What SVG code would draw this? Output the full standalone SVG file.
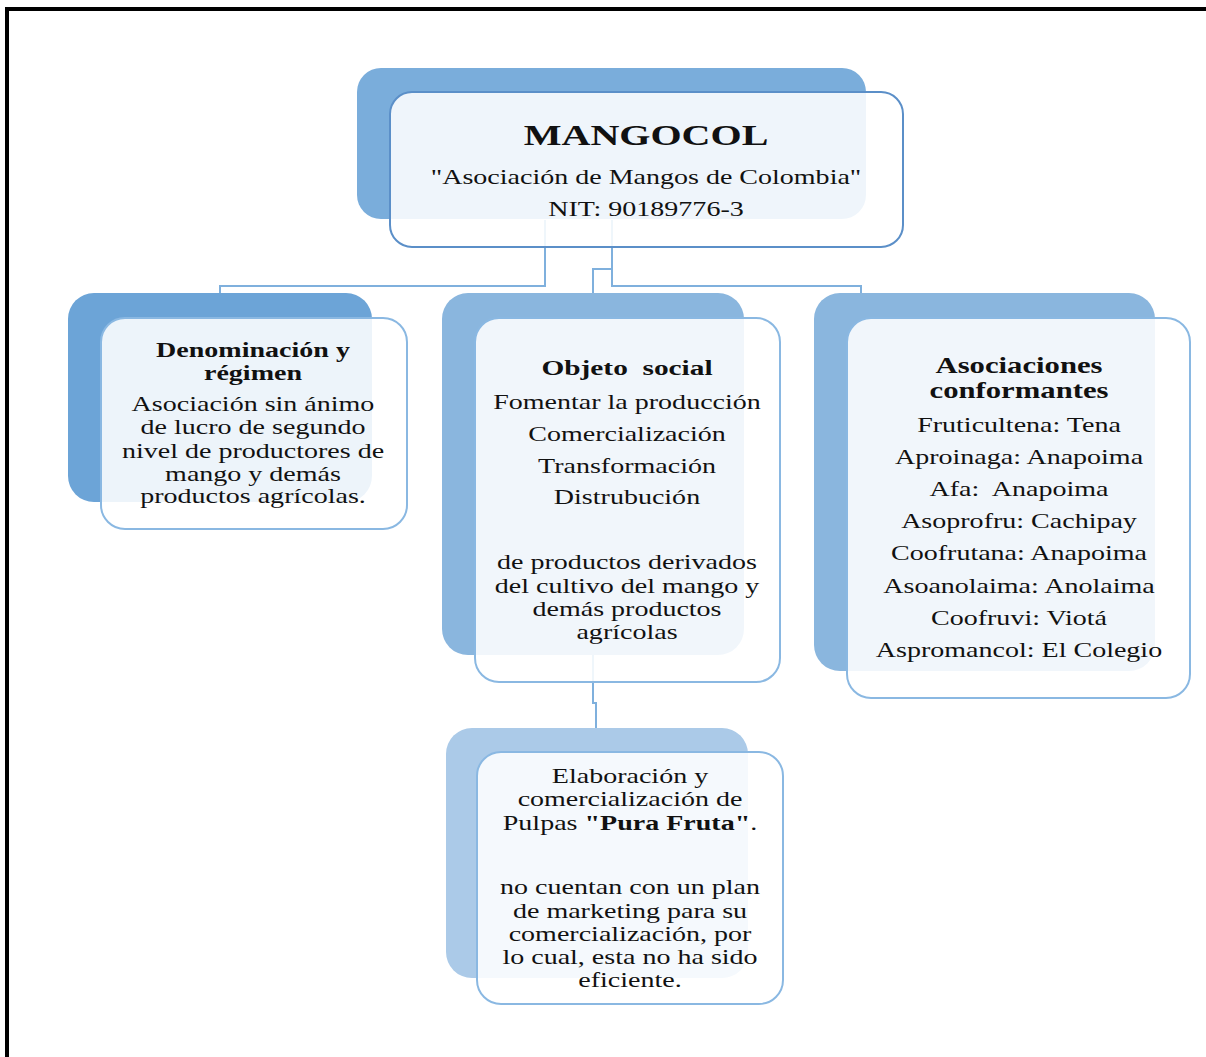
<svg xmlns="http://www.w3.org/2000/svg" width="1206" height="1057" viewBox="0 0 1206 1057">
<style>
  .front { fill: #ffffff; fill-opacity: 0.88; stroke: #8ab8e2; stroke-width: 2; }
  .t { font-family: "Liberation Serif", "Times New Roman", serif; font-size: 21px; fill: #111111; text-anchor: middle; }
  .b { font-weight: bold; }
  .conn { fill: none; stroke: #7fb0dd; stroke-width: 2; }
</style>
<rect x="0" y="0" width="1206" height="1057" fill="#ffffff"/>
<rect x="7" y="9" width="1220" height="1070" fill="none" stroke="#000000" stroke-width="4"/>

<g id="connectors">
  <path class="conn" d="M545,220 V286 H220 V315"/>
  <path class="conn" d="M612,220 V286 H861 V315"/>
  <path class="conn" d="M612,269 H593 V293"/>
  <path class="conn" d="M593,655 V703 H596 V728"/>
</g>

<g id="node-mangocol">
  <rect x="357" y="68" width="509" height="151" rx="24" fill="#7aaddb"/>
  <rect class="front" x="390" y="92" width="513" height="155" rx="22" style="stroke:#5b8fc8"/>
  <g transform="translate(646,0) scale(1.335,1)">
    <text class="t b" x="0" y="145" style="font-size:30px">MANGOCOL</text>
    <text class="t" x="0" y="184">"Asociación de Mangos de Colombia"</text>
    <text class="t" x="0" y="216">NIT: 90189776-3</text>
  </g>
</g>

<g id="node-denominacion">
  <rect x="68" y="293" width="304" height="209" rx="26" fill="#6ca4d7"/>
  <rect class="front" x="101" y="318" width="306" height="211" rx="24"/>
  <g transform="translate(253,0) scale(1.335,1)">
    <text class="t b" x="0" y="357">Denominación y</text>
    <text class="t b" x="0" y="380">régimen</text>
    <text class="t" x="0" y="411">Asociación sin ánimo</text>
    <text class="t" x="0" y="434">de lucro de segundo</text>
    <text class="t" x="0" y="458">nivel de productores de</text>
    <text class="t" x="0" y="481">mango y demás</text>
    <text class="t" x="0" y="503">productos agrícolas.</text>
  </g>
</g>

<g id="node-objeto">
  <rect x="442" y="293" width="302" height="362" rx="26" fill="#8ab6de"/>
  <rect class="front" x="475" y="318" width="305" height="364" rx="24"/>
  <g transform="translate(627,0) scale(1.335,1)">
    <text class="t b" x="0" y="375" style="font-size:22px" xml:space="preserve">Objeto  social</text>
    <text class="t" x="0" y="409">Fomentar la producción</text>
    <text class="t" x="0" y="441">Comercialización</text>
    <text class="t" x="0" y="473">Transformación</text>
    <text class="t" x="0" y="504">Distrubución</text>
    <text class="t" x="0" y="569">de productos derivados</text>
    <text class="t" x="0" y="593">del cultivo del mango y</text>
    <text class="t" x="0" y="616">demás productos</text>
    <text class="t" x="0" y="639">agrícolas</text>
  </g>
</g>

<g id="node-asociaciones">
  <rect x="814" y="293" width="341" height="378" rx="26" fill="#8ab6de"/>
  <rect class="front" x="847" y="318" width="343" height="380" rx="24"/>
  <g transform="translate(1019,0) scale(1.335,1)">
    <text class="t b" x="0" y="373" style="font-size:23px">Asociaciones</text>
    <text class="t b" x="0" y="398" style="font-size:23px">conformantes</text>
    <text class="t" x="0" y="432">Fruticultena: Tena</text>
    <text class="t" x="0" y="464">Aproinaga: Anapoima</text>
    <text class="t" x="0" y="496" xml:space="preserve">Afa:  Anapoima</text>
    <text class="t" x="0" y="528">Asoprofru: Cachipay</text>
    <text class="t" x="0" y="560">Coofrutana: Anapoima</text>
    <text class="t" x="0" y="593">Asoanolaima: Anolaima</text>
    <text class="t" x="0" y="625">Coofruvi: Viotá</text>
    <text class="t" x="0" y="657">Aspromancol: El Colegio</text>
  </g>
</g>

<g id="node-pulpas">
  <rect x="446" y="728" width="302" height="250" rx="26" fill="#abcae8"/>
  <rect class="front" x="477" y="752" width="306" height="252" rx="24"/>
  <g transform="translate(630,0) scale(1.335,1)">
    <text class="t" x="0" y="783">Elaboración y</text>
    <text class="t" x="0" y="806">comercialización de</text>
    <text class="t" x="0" y="830">Pulpas <tspan class="b">"Pura Fruta"</tspan>.</text>
    <text class="t" x="0" y="894">no cuentan con un plan</text>
    <text class="t" x="0" y="918">de marketing para su</text>
    <text class="t" x="0" y="941">comercialización, por</text>
    <text class="t" x="0" y="964">lo cual, esta no ha sido</text>
    <text class="t" x="0" y="987">eficiente.</text>
  </g>
</g>
</svg>
